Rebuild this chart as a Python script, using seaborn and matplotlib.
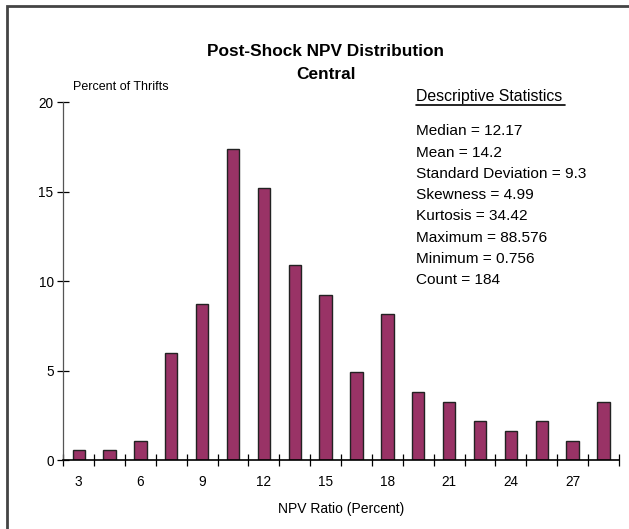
import numpy as np
import pandas as pd
import matplotlib.pyplot as plt
import seaborn as sns

# NPV ratio bin centres and percent of thrifts (count = 184)
bins = [3, 4.5, 6, 7.5, 9, 10.5, 12, 13.5, 15, 16.5, 18, 19.5, 21, 22.5, 24, 25.5, 27, 28.5]
percent = [0.54, 0.54, 1.09, 5.98, 8.70, 17.39, 15.22, 10.87, 9.24, 4.89,
           8.15, 3.80, 3.26, 2.17, 1.63, 2.17, 1.09, 3.26]
stats = ["Median = 12.17", "Mean = 14.2", "Standard Deviation = 9.3", "Skewness = 4.99",
         "Kurtosis = 34.42", "Maximum = 88.576", "Minimum = 0.756", "Count = 184"]

df = pd.DataFrame({"bin": [str(b) for b in bins], "pct": percent})

sns.set_theme(style="white")
plt.rcParams['font.family'] = ['Liberation Sans', 'DejaVu Sans']
plt.rcParams['text.color'] = 'black'
plt.rcParams['xtick.color'] = 'black'
plt.rcParams['ytick.color'] = 'black'
plt.rcParams['axes.labelcolor'] = 'black'

fig = plt.figure(figsize=(6.29, 5.29), dpi=100)
ax = fig.add_axes([0.1006, 0.1304, 0.8834, 0.6767])

sns.barplot(data=df, x="bin", y="pct", color="#993366", saturation=1, width=0.4,
            edgecolor="#222222", linewidth=1.0, ax=ax)

ax.set_xlim(-0.5, len(bins) - 0.5)
ax.set_ylim(0, 20)
ax.set_yticks([0, 5, 10, 15, 20])
ax.set_yticklabels(["0", "5", "10", "15", "20"], fontsize=9.8)
ax.set_xticks(range(0, len(bins), 2))
ax.set_xticklabels([f"{b:g}" for b in bins[::2]], fontsize=9.8)
ax.set_xticks(np.arange(-0.5, len(bins), 1), minor=True)
ax.tick_params(axis="x", which="major", length=0, pad=11)
ax.tick_params(axis="x", which="minor", direction="inout", length=8, width=0.9, color="black", bottom=True)
ax.tick_params(axis="y", which="major", direction="inout", length=8, width=0.9, color="black", left=True, pad=3)

for s in ["top", "right"]:
    ax.spines[s].set_visible(False)
ax.spines["left"].set_color("#555555")
ax.spines["left"].set_linewidth(0.9)
ax.spines["bottom"].set_color("black")
ax.spines["bottom"].set_linewidth(1.2)

ax.set_xlabel("NPV Ratio (Percent)", fontsize=10, labelpad=9)
ax.set_ylabel("")

fig.text(0.518, 0.902, "Post-Shock NPV Distribution", ha="center", va="center",
         fontsize=12.4, fontweight="bold")
fig.text(0.518, 0.859, "Central", ha="center", va="center", fontsize=12.4, fontweight="bold")
fig.text(0.116, 0.836, "Percent of Thrifts", ha="left", va="center", fontsize=9)

fig.text(0.661, 0.817, "Descriptive Statistics", ha="left", va="center", fontsize=11.4)
fig.add_artist(plt.Line2D([0.661, 0.899], [0.801, 0.801], color="black", lw=1.2))
for i, s in enumerate(stats):
    fig.text(0.661, 0.752 - i * 0.0403, s, ha="left", va="center", fontsize=11.1)

# outer frame
fig.add_artist(plt.Rectangle((0.011, -0.05), 1.1, 0.989 + 0.05, transform=fig.transFigure,
                             fill=False, edgecolor="#444444", lw=2))

fig.savefig("out.png", dpi=100)
